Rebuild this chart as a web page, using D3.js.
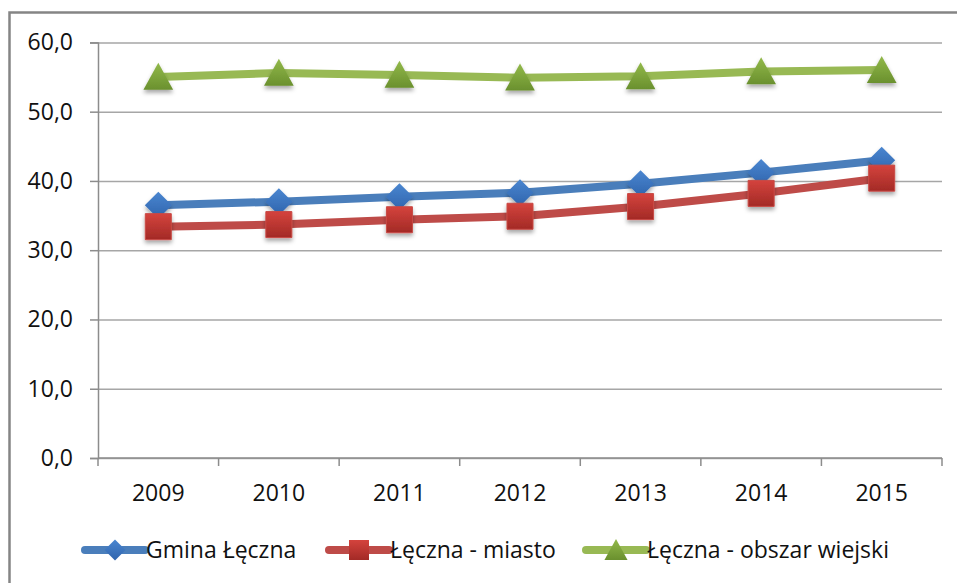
<!DOCTYPE html>
<html>
<head>
<meta charset="utf-8">
<style>
  body { margin: 0; background: #fff; }
  text { font-family: "Open Sans", "DejaVu Sans", sans-serif; fill: #111; }
</style>
</head>
<body>
<svg width="957" height="583"></svg>
<script src="https://d3js.org/d3.v7.min.js"></script>
<script>
// categories and series
var years = ["2009", "2010", "2011", "2012", "2013", "2014", "2015"]
var gmina = [36.5, 37.0, 37.7, 38.3, 39.6, 41.2, 43.0]
var miasto = [33.4, 33.7, 34.4, 34.9, 36.3, 38.2, 40.4]
var wiejski = [55.0, 55.6, 55.3, 54.9, 55.1, 55.8, 56.0]
var yTicks = [0, 10, 20, 30, 40, 50, 60]
var seriesNames = ["Gmina Łęczna", "Łęczna - miasto", "Łęczna - obszar wiejski"]

var series = [
  { name: seriesNames[0], values: gmina, line: "#4a7ebb", top: "#4a86d0", bottom: "#2f64ad", shape: "diamond" },
  { name: seriesNames[1], values: miasto, line: "#be4b48", top: "#d4433d", bottom: "#a32a26", shape: "square" },
  { name: seriesNames[2], values: wiejski, line: "#98b954", top: "#92b94a", bottom: "#6a902e", shape: "triangle" }
]

var svg = d3.select("svg")
var margin = { left: 98, right: 15, top: 42.4, bottom: 125 }
var width = 957, height = 583
var fontSize = 23

var x = d3.scaleBand().domain(years).range([margin.left, width - margin.right])
var y = d3.scaleLinear().domain([0, 60]).range([height - margin.bottom, margin.top])

// outer chart border (cut off on right and bottom)
svg.append("rect")
  .attr("x", 9.5).attr("y", 12.5)
  .attr("width", 1000).attr("height", 1000)
  .attr("fill", "none").attr("stroke", "#858585").attr("stroke-width", 2.5)

var defs = svg.append("defs")
series.forEach(function (s, i) {
  var g = defs.append("linearGradient").attr("id", "grad" + i)
    .attr("x1", 0).attr("y1", 0).attr("x2", 0).attr("y2", 1)
  g.append("stop").attr("offset", "0%").attr("stop-color", s.top)
  g.append("stop").attr("offset", "100%").attr("stop-color", s.bottom)
})
var shadow = defs.append("filter").attr("id", "shadow")
  .attr("x", "-50%").attr("y", "-50%").attr("width", "200%").attr("height", "200%")
shadow.append("feDropShadow").attr("dx", 0).attr("dy", 3).attr("stdDeviation", 2)
  .attr("flood-color", "#000").attr("flood-opacity", 0.35)

// gridlines
svg.append("g")
  .attr("transform", "translate(" + margin.left + ",0)")
  .call(d3.axisLeft(y).tickValues(yTicks).tickSize(-(x.range()[1] - margin.left)).tickFormat(""))
  .call(function (g) { g.select(".domain").remove() })
  .selectAll("line").attr("stroke", "#a6a6a6").attr("stroke-width", 1.5)

// y axis
var yAxis = svg.append("g")
  .attr("transform", "translate(" + margin.left + ",0)")
  .call(d3.axisLeft(y).tickValues(yTicks).tickSize(8).tickPadding(17)
    .tickFormat(function (d) { return d3.format(".1f")(d).replace(".", ",") }))
yAxis.select(".domain").attr("stroke", "#8c8c8c").attr("stroke-width", 1.5)
yAxis.selectAll("line").attr("stroke", "#8c8c8c").attr("stroke-width", 1.5)
yAxis.selectAll("text").attr("font-size", fontSize).attr("fill", "#111")

// x axis
var baseY = y(0)
var xAxis = svg.append("g").attr("transform", "translate(0," + baseY + ")")
xAxis.append("line")
  .attr("x1", x.range()[0]).attr("x2", x.range()[1])
  .attr("stroke", "#8c8c8c").attr("stroke-width", 1.5)
xAxis.selectAll(".tick")
  .data(years.map(function (d) { return x(d) }).concat([x.range()[1]]))
  .join("line")
  .attr("x1", function (d) { return d }).attr("x2", function (d) { return d })
  .attr("y1", 0).attr("y2", 8)
  .attr("stroke", "#8c8c8c").attr("stroke-width", 1.5)
xAxis.selectAll("text.lbl")
  .data(years).join("text")
  .attr("class", "lbl")
  .attr("x", function (d) { return x(d) + x.bandwidth() / 2 })
  .attr("y", 43)
  .attr("text-anchor", "middle")
  .attr("font-size", fontSize)
  .text(function (d) { return d })

function cx(i) { return x(years[i]) + x.bandwidth() / 2 }

function markerPath(shape, r) {
  if (shape === "diamond") return "M0," + (-r) + "L" + r + ",0L0," + r + "L" + (-r) + ",0Z"
  if (shape === "square") return "M" + (-r) + "," + (-r) + "h" + (2 * r) + "v" + (2 * r) + "h" + (-2 * r) + "Z"
  return "M0," + (-r * 1.05) + "L" + (r * 1.1) + "," + (r * 0.95) + "L" + (-r * 1.1) + "," + (r * 0.95) + "Z"
}
var markerSize = { diamond: 13.5, square: 13, triangle: 13.5 }

var line = d3.line()
  .x(function (d, i) { return cx(i) })
  .y(function (d) { return y(d) })

series.forEach(function (s, si) {
  var g = svg.append("g")
  g.append("path")
    .datum(s.values)
    .attr("d", line)
    .attr("fill", "none")
    .attr("stroke", s.line)
    .attr("stroke-width", 8)
    .attr("stroke-linejoin", "round")
  g.selectAll("path.m")
    .data(s.values).join("path")
    .attr("class", "m")
    .attr("transform", function (d, i) { return "translate(" + cx(i) + "," + y(d) + ")" })
    .attr("d", markerPath(s.shape, markerSize[s.shape]))
    .attr("fill", "url(#grad" + si + ")")
    .attr("stroke", s.shape === "square" ? "#c94a45" : "none")
    .attr("stroke-width", 1)
    .attr("filter", "url(#shadow)")
})

// legend
var legendX = [85, 329, 586]
var legendY = 550
var legend = svg.append("g")
series.forEach(function (s, si) {
  var item = legend.append("g").attr("transform", "translate(" + legendX[si] + "," + legendY + ")")
  item.append("line")
    .attr("x1", 0).attr("x2", 60)
    .attr("stroke", s.line).attr("stroke-width", 8).attr("stroke-linecap", "round")
  item.append("path")
    .attr("transform", "translate(30,0)")
    .attr("d", markerPath(s.shape, s.shape === "square" ? 10 : 10.5))
    .attr("fill", "url(#grad" + si + ")")
  item.append("text")
    .attr("x", 61).attr("y", 0).attr("dy", "0.35em")
    .attr("font-size", fontSize)
    .text(s.name)
})
</script>
</body>
</html>
